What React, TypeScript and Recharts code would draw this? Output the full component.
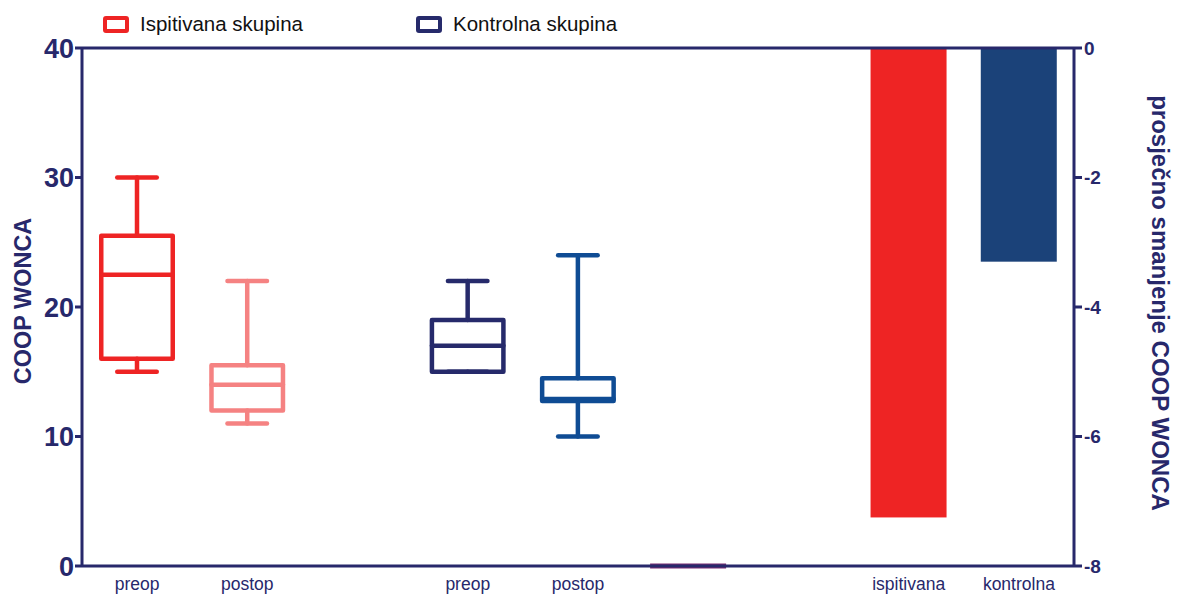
import React from 'react'
import {
  ComposedChart,
  Bar,
  XAxis,
  YAxis,
  Legend,
  ReferenceLine,
} from 'recharts'

const categories = ['preop', 'postop', '', 'preop', 'postop', '', '', 'ispitivana', 'kontrolna']
const boxMin = [15, 11, null, 15, 10, 0, null, null, null]
const boxQ1 = [16, 12, null, 15, 12.75, 0, null, null, null]
const boxMedian = [22.5, 14, null, 17, 12.9, 0, null, null, null]
const boxQ3 = [25.5, 15.5, null, 19, 14.5, 0, null, null, null]
const boxMax = [30, 22, null, 22, 24, 0, null, null, null]
const meanChange = [null, null, null, null, null, null, null, -7.25, -3.3]

const leftTicks = [0, 10, 20, 30, 40]
const rightTicks = [0, -2, -4, -6, -8]

const legendItems = [
  { name: 'Ispitivana skupina', color: '#ee2424' },
  { name: 'Kontrolna skupina', color: '#262a6b' },
]

const boxColors = ['#ee2424', '#f58282', '', '#262a6b', '#0f4c94', '#7b2d72', '', '', '']
const barColors = ['', '', '', '', '', '', '', '#ee2424', '#1b4279']

const NAVY = '#27286b'
const FONT = '"Liberation Sans", Arial, sans-serif'

const data = categories.map((label, i) => ({
  id: i,
  label,
  range: boxMin[i] == null ? null : [boxMin[i], boxMax[i]],
  q1: boxQ1[i],
  median: boxMedian[i],
  q3: boxQ3[i],
  change: meanChange[i],
}))

function BoxShape(props: any) {
  const { x, y, width, height, payload } = props
  if (!payload || payload.range == null) return null
  const [lo, hi] = payload.range
  const color = boxColors[payload.id]
  const top = Math.min(y, y + height)
  const bottom = Math.max(y, y + height)
  if (hi === lo) {
    return <line x1={x} x2={x + width} y1={top} y2={top} stroke={color} strokeWidth={5} />
  }
  const px = (bottom - top) / (hi - lo)
  const yOf = (v: number) => bottom - (v - lo) * px
  const cx = x + width / 2
  const cap = width * 0.26
  const sw = 4.5
  return (
    <g stroke={color} strokeWidth={sw} fill="none" strokeLinecap="round" strokeLinejoin="round">
      <line x1={cx} x2={cx} y1={yOf(hi)} y2={yOf(payload.q3)} />
      <line x1={cx} x2={cx} y1={yOf(payload.q1)} y2={yOf(lo)} />
      <line x1={cx - cap} x2={cx + cap} y1={yOf(hi)} y2={yOf(hi)} />
      <line x1={cx - cap} x2={cx + cap} y1={yOf(lo)} y2={yOf(lo)} />
      <rect
        x={x + sw / 2}
        y={yOf(payload.q3)}
        width={width - sw}
        height={yOf(payload.q1) - yOf(payload.q3)}
      />
      <line x1={x + sw / 2} x2={x + width - sw / 2} y1={yOf(payload.median)} y2={yOf(payload.median)} />
    </g>
  )
}

function ChangeShape(props: any) {
  const { x, y, width, height, payload } = props
  if (!payload || payload.change == null) return null
  const top = Math.min(y, y + height)
  return <rect x={x} y={top} width={width} height={Math.abs(height)} fill={barColors[payload.id]} />
}

function renderLegend() {
  const lefts = [103, 416]
  return (
    <div style={{ position: 'relative', width: 1180, height: 45, fontFamily: FONT }}>
      {legendItems.map((it, i) => (
        <div key={it.name} style={{ position: 'absolute', left: lefts[i], top: 14, display: 'flex', alignItems: 'center' }}>
          <span
            style={{
              display: 'inline-block',
              width: 18,
              height: 9,
              border: `4px solid ${it.color}`,
              borderRadius: 3,
            }}
          />
          <span style={{ marginLeft: 11, fontSize: 20.5, color: '#111', lineHeight: '20px' }}>{it.name}</span>
        </div>
      ))}
    </div>
  )
}

function LeftTitle({ viewBox }: any) {
  const cy = viewBox.y + viewBox.height / 2 - 6
  return (
    <text
      x={31}
      y={cy}
      transform={`rotate(-90, 31, ${cy})`}
      textAnchor="middle"
      fill={NAVY}
      fontFamily={FONT}
      fontWeight="bold"
      fontSize={23.5}
    >
      COOP WONCA
    </text>
  )
}

function RightTitle({ viewBox }: any) {
  const cy = viewBox.y + viewBox.height / 2 - 4
  return (
    <text
      x={1152}
      y={cy}
      transform={`rotate(90, 1152, ${cy})`}
      textAnchor="middle"
      fill={NAVY}
      fontFamily={FONT}
      fontWeight="bold"
      fontSize={24}
    >
      prosječno smanjenje COOP WONCA
    </text>
  )
}

export default function App() {
  return (
    <div style={{ position: 'absolute', left: 0, top: 0, width: 1180, height: 595, background: '#fff' }}>
      <ComposedChart
        width={1180}
        height={595}
        data={data}
        margin={{ top: 48, right: 0, bottom: 0, left: 0 }}
        barGap={0}
      >
        <Legend
          content={renderLegend}
          layout="vertical"
          align="center"
          verticalAlign="middle"
          wrapperStyle={{ top: 0, left: 0, width: 1180, height: 45 }}
        />
        <XAxis
          xAxisId="box"
          dataKey="id"
          type="category"
          height={29}
          tickFormatter={(v: number) => categories[v]}
          tickLine={false}
          axisLine={{ stroke: NAVY, strokeWidth: 3 }}
          tick={{ fill: NAVY, fontSize: 17.5, fontFamily: FONT }}
          tickMargin={6}
          interval={0}
        />
        <XAxis xAxisId="bar" dataKey="id" type="category" orientation="top" height={0} hide />
        <YAxis
          yAxisId="left"
          orientation="left"
          width={82}
          domain={[0, 40]}
          ticks={leftTicks}
          interval={0}
          tickSize={7}
          tickMargin={1}
          axisLine={{ stroke: NAVY, strokeWidth: 3 }}
          tickLine={{ stroke: NAVY, strokeWidth: 3 }}
          tick={{ fill: NAVY, fontSize: 27, fontWeight: 'bold', fontFamily: FONT }}
          label={<LeftTitle />}
        />
        <YAxis
          yAxisId="right"
          orientation="right"
          width={106}
          domain={[-8, 0]}
          ticks={rightTicks}
          interval={0}
          tickSize={8}
          tickMargin={2}
          axisLine={{ stroke: NAVY, strokeWidth: 3 }}
          tickLine={{ stroke: NAVY, strokeWidth: 3 }}
          tick={{ fill: NAVY, fontSize: 19, fontWeight: 'bold', fontFamily: FONT }}
          label={<RightTitle />}
        />
        <Bar
          xAxisId="bar"
          yAxisId="right"
          dataKey="change"
          barSize={76}
          shape={ChangeShape}
          isAnimationActive={false}
        />
        <Bar
          xAxisId="box"
          yAxisId="left"
          dataKey="range"
          barSize={76}
          shape={BoxShape}
          isAnimationActive={false}
        />
        <ReferenceLine yAxisId="left" xAxisId="box" y={40} stroke={NAVY} strokeWidth={3} />
      </ComposedChart>
    </div>
  )
}
